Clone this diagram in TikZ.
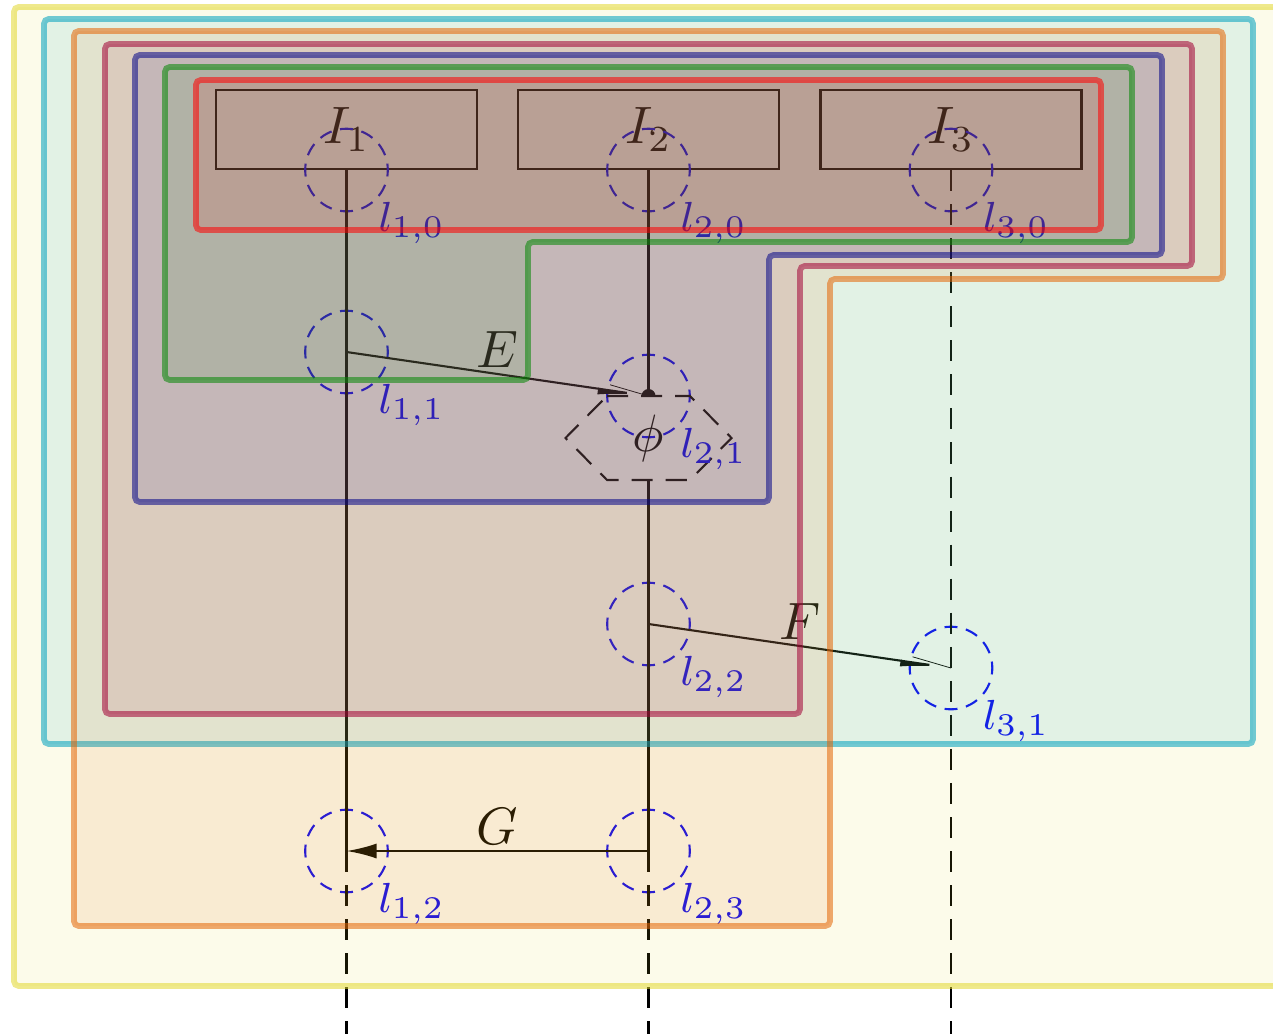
\documentclass[tikz,border=0pt]{standalone}
\usetikzlibrary{arrows.meta,calc}
\definecolor{cY}{RGB}{225,215,45}
\definecolor{cC}{RGB}{0,160,190}
\definecolor{cO}{RGB}{228,100,3}
\definecolor{cR}{RGB}{160,0,52}
\definecolor{cB}{RGB}{5,5,135}
\definecolor{cG}{RGB}{4,135,4}
\definecolor{cRed}{RGB}{255,0,0}
\definecolor{lblue}{RGB}{0,0,255}
\begin{document}
\begin{tikzpicture}[x={(0.19pt,0)}, y={(0,-0.19pt)},
 ibox/.style={draw, line width=0.4pt, minimum width=49.6pt, minimum height=15pt, inner sep=0pt},
 lcirc/.style={circle, draw=lblue, line width=0.4pt, minimum size=15.7pt, inner sep=0pt, dash pattern=on 2.45pt off 1.66pt, dash phase=1.225pt},
 lab/.style={text=lblue, font=\footnotesize, anchor=north west, inner sep=0.2pt},
 wire/.style={line width=0.4pt},
 wdash/.style={line width=0.4pt, dash pattern=on 4pt off 2.47pt},
 elab/.style={anchor=south, inner sep=1pt},
 thintip/.style={-{Latex[harpoon,swap,length=7.6pt,width=2.2pt]}},
 region/.style={line width=1.1pt, rounded corners=0.9pt, fill opacity=0.1, draw opacity=0.55},
]
\useasboundingbox (0,0) rectangle (1273,1033);
\clip (0,0) rectangle (1273,1033);

% interface boxes
\node[ibox] (I1) at (346.5,129.5) {$I_1$};
\node[ibox] (I2) at (648.5,129.5) {$I_2$};
\node[ibox] (I3) at (951,129.5) {$I_3$};

\coordinate (d) at (648.5,396);
\coordinate (b1) at (346.5,1045);
\coordinate (b2) at (648.5,1045);
\coordinate (b3) at (951,1045);

% dashed circles
\node[lcirc] (c10) at (I1.south) {};
\node[lcirc] (c11) at (346.5,352) {};
\node[lcirc] (c12) at (346.5,851) {};
\node[lcirc] (c20) at (I2.south) {};
\node[lcirc] (c21) at (d) {};
\node[lcirc] (c22) at (648.5,624) {};
\node[lcirc] (c23) at (648.5,851) {};
\node[lcirc] (c30) at (I3.south) {};
\node[lcirc] (c31) at (951,668) {};

% phi hexagon
\node (phi) at (648.5,438) {$\phi$};
\draw[wdash] ($(phi.center)+(-41.5,-42)$) -- ($(phi.center)+(41.5,-42)$) -- ($(phi.center)+(83,0)$) -- ($(phi.center)+(41.5,42)$) -- ($(phi.center)+(-41.5,42)$) -- ($(phi.center)+(-83,0)$) -- cycle;
\coordinate (hb) at ($(phi.center)+(0,42)$);

% wires
\draw[wire] (I1.south) -- (c12.center);
\draw[wdash] (c12.center) -- (b1);
\draw[wire] (I2.south) -- (d);
\draw[wire] (hb) -- (c23.center);
\draw[wdash] (c23.center) -- (b2);
\draw[wdash] (c30.center) -- (b3);

% dot
\fill ($(d)+(-7,0)$) arc[start angle=180, end angle=0, radius=1.33pt] -- cycle;

% arrows
\draw[wire, thintip] (c11.center) -- node[elab] {$E$} (d);
\draw[line width=0.15pt] (d) -- ($(d)!7.6pt!-8:(c11.center)$);
\draw[wire, thintip] (c22.center) -- node[elab] {$F$} (c31.center);
\draw[line width=0.15pt] (c31.center) -- ($(c31.center)!7.6pt!-8:(c22.center)$);
\draw[wire, -{Latex[length=5.7pt,width=2.85pt]}] (c23.center) -- node[elab] {$G$} (c12.center);

% labels
\node[lab] at (c10.south east) {$l_{1,0}$};
\node[lab] at (c11.south east) {$l_{1,1}$};
\node[lab] at (c12.south east) {$l_{1,2}$};
\node[lab] at (c20.south east) {$l_{2,0}$};
\node[lab] at (c21.south east) {$l_{2,1}$};
\node[lab] at (c22.south east) {$l_{2,2}$};
\node[lab] at (c23.south east) {$l_{2,3}$};
\node[lab] at (c30.south east) {$l_{3,0}$};
\node[lab] at (c31.south east) {$l_{3,1}$};

% regions (drawn on top, translucent)
\draw[region, draw=cY, fill=cY] (14,7) rectangle (1300,986);
\draw[region, draw=cC, fill=cC] (44,19) rectangle (1253,744);
\draw[region, draw=cO, fill=cO] (74,31) -- (1223,31) -- (1223,279) -- (830,279) -- (830,926) -- (74,926) -- cycle;
\draw[region, draw=cR, fill=cR] (105,44) -- (1192,44) -- (1192,266) -- (800,266) -- (800,714) -- (105,714) -- cycle;
\draw[region, draw=cB, fill=cB] (135,55) -- (1162,55) -- (1162,255) -- (769,255) -- (769,502) -- (135,502) -- cycle;
\draw[region, draw=cG, fill=cG] (165,67) -- (1132,67) -- (1132,242) -- (528,242) -- (528,380) -- (165,380) -- cycle;
\draw[region, draw=cRed, fill=cRed] (196,80) rectangle (1101,230);
\end{tikzpicture}
\end{document}
